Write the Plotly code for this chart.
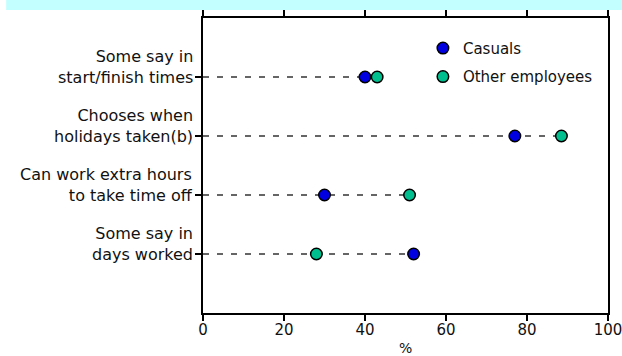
import plotly.graph_objects as go

categories = ["Some say in<br>start/finish times",
              "Chooses when<br>holidays taken(b)",
              "Can work extra hours<br>to take time off",
              "Some say in<br>days worked"]
casuals = [40, 77, 30, 52]
others = [43, 88.5, 51, 28]
x_ticks = [0, 20, 40, 60, 80, 100]
series_names = ["Casuals", "Other employees"]
x_title = "%"

FONT = "DejaVu Sans"
BLUE = "#0000E0"
TEAL = "#00BF8F"
positions = list(range(1, len(categories) + 1))

fig = go.Figure()

# dashed guide lines from 0 to the larger value of each row
for pos, c, o in zip(positions, casuals, others):
    fig.add_trace(go.Scatter(x=[0, max(c, o)], y=[pos, pos], mode="lines",
                             line=dict(color="#333333", width=1.5, dash="6px,8px"),
                             showlegend=False, hoverinfo="skip"))

fig.add_trace(go.Scatter(x=casuals, y=positions, mode="markers", name=series_names[0],
                         marker=dict(size=11.5, color=BLUE, line=dict(color="black", width=1.5)),
                         legendgroup="a"))
fig.add_trace(go.Scatter(x=others, y=positions, mode="markers", name=series_names[1],
                         marker=dict(size=11.5, color=TEAL, line=dict(color="black", width=1.5)),
                         legendgroup="b"))

for pos, label in zip(positions, categories):
    fig.add_annotation(x=0, xref="paper", y=pos, yref="y", text=label, showarrow=False,
                       xanchor="right", yanchor="middle", xshift=-8, yshift=10, align="right",
                       font=dict(family=FONT, size=16, color="#111111"))

# x axis title as annotation (keeps margins fixed)
fig.add_annotation(x=0.5, xref="paper", y=0, yref="paper", text=x_title, showarrow=False,
                   xanchor="center", yanchor="top", yshift=-25,
                   font=dict(family=FONT, size=14, color="#111111"))

# light cyan band at top
fig.add_shape(type="rect", xref="paper", yref="paper", x0=-0.486, x1=1.04, y0=1.027, y1=1.07,
              fillcolor="#C4FFFF", line=dict(width=0), layer="below")

fig.update_xaxes(range=[0, 100], tickvals=x_ticks, ticks="outside", ticklen=6, tickwidth=1.5,
                 tickcolor="black", showline=True, linecolor="black", linewidth=1.5,
                 mirror="ticks", showgrid=False, zeroline=False, automargin=False,
                 ticklabeloverflow="allow", ticklabelstandoff=-4,
                 tickfont=dict(family=FONT, size=15, color="#111111"))
fig.update_yaxes(range=[5, 0], tickvals=positions, ticktext=[""] * len(positions),
                 ticks="outside", ticklen=6, tickwidth=1.5, tickcolor="black",
                 showline=True, linecolor="black", linewidth=1.5, mirror=True,
                 showgrid=False, zeroline=False, automargin=False)

fig.update_layout(width=622, height=356, margin=dict(l=203, r=14, t=18, b=43),
                  paper_bgcolor="white", plot_bgcolor="white",
                  showlegend=True,
                  legend=dict(x=0.543, y=0.953, xanchor="left", yanchor="top",
                              bgcolor="rgba(0,0,0,0)", itemwidth=30, tracegroupgap=6,
                              font=dict(family=FONT, size=15, color="#111111")))

fig.write_html("out.html", config={"displayModeBar": False},
               post_script="document.body.style.margin='0';document.body.style.overflow='hidden';")
